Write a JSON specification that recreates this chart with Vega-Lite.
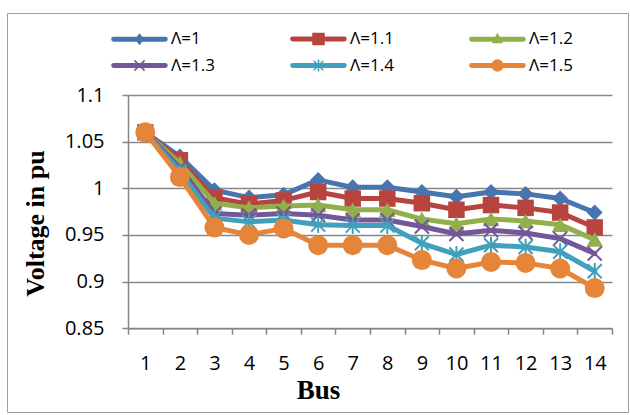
{
  "$schema": "https://vega.github.io/schema/vega-lite/v6.json",
  "autosize": {"type": "none"},
  "width": 621,
  "height": 399,
  "padding": {"left": 7, "top": 13, "right": 2, "bottom": 3},
  "background": "white",
  "config": {
    "view": {"stroke": "#9e9e9e", "strokeWidth": 1},
    "font": "Open Sans"
  },
  "data": {
    "values": [
      {"bus": 1, "s": "Λ=1", "v": 1.06}, {"bus": 2, "s": "Λ=1", "v": 1.034}, {"bus": 3, "s": "Λ=1", "v": 0.998}, {"bus": 4, "s": "Λ=1", "v": 0.99}, {"bus": 5, "s": "Λ=1", "v": 0.993}, {"bus": 6, "s": "Λ=1", "v": 1.009}, {"bus": 7, "s": "Λ=1", "v": 1.001}, {"bus": 8, "s": "Λ=1", "v": 1.001}, {"bus": 9, "s": "Λ=1", "v": 0.996}, {"bus": 10, "s": "Λ=1", "v": 0.991}, {"bus": 11, "s": "Λ=1", "v": 0.996}, {"bus": 12, "s": "Λ=1", "v": 0.994}, {"bus": 13, "s": "Λ=1", "v": 0.989}, {"bus": 14, "s": "Λ=1", "v": 0.974},
      {"bus": 1, "s": "Λ=1.1", "v": 1.06}, {"bus": 2, "s": "Λ=1.1", "v": 1.03}, {"bus": 3, "s": "Λ=1.1", "v": 0.99}, {"bus": 4, "s": "Λ=1.1", "v": 0.983}, {"bus": 5, "s": "Λ=1.1", "v": 0.987}, {"bus": 6, "s": "Λ=1.1", "v": 0.996}, {"bus": 7, "s": "Λ=1.1", "v": 0.989}, {"bus": 8, "s": "Λ=1.1", "v": 0.989}, {"bus": 9, "s": "Λ=1.1", "v": 0.984}, {"bus": 10, "s": "Λ=1.1", "v": 0.977}, {"bus": 11, "s": "Λ=1.1", "v": 0.982}, {"bus": 12, "s": "Λ=1.1", "v": 0.979}, {"bus": 13, "s": "Λ=1.1", "v": 0.974}, {"bus": 14, "s": "Λ=1.1", "v": 0.958},
      {"bus": 1, "s": "Λ=1.2", "v": 1.06}, {"bus": 2, "s": "Λ=1.2", "v": 1.027}, {"bus": 3, "s": "Λ=1.2", "v": 0.984}, {"bus": 4, "s": "Λ=1.2", "v": 0.979}, {"bus": 5, "s": "Λ=1.2", "v": 0.981}, {"bus": 6, "s": "Λ=1.2", "v": 0.982}, {"bus": 7, "s": "Λ=1.2", "v": 0.977}, {"bus": 8, "s": "Λ=1.2", "v": 0.977}, {"bus": 9, "s": "Λ=1.2", "v": 0.967}, {"bus": 10, "s": "Λ=1.2", "v": 0.962}, {"bus": 11, "s": "Λ=1.2", "v": 0.967}, {"bus": 12, "s": "Λ=1.2", "v": 0.965}, {"bus": 13, "s": "Λ=1.2", "v": 0.961}, {"bus": 14, "s": "Λ=1.2", "v": 0.945},
      {"bus": 1, "s": "Λ=1.3", "v": 1.06}, {"bus": 2, "s": "Λ=1.3", "v": 1.022}, {"bus": 3, "s": "Λ=1.3", "v": 0.973}, {"bus": 4, "s": "Λ=1.3", "v": 0.971}, {"bus": 5, "s": "Λ=1.3", "v": 0.973}, {"bus": 6, "s": "Λ=1.3", "v": 0.971}, {"bus": 7, "s": "Λ=1.3", "v": 0.966}, {"bus": 8, "s": "Λ=1.3", "v": 0.966}, {"bus": 9, "s": "Λ=1.3", "v": 0.959}, {"bus": 10, "s": "Λ=1.3", "v": 0.951}, {"bus": 11, "s": "Λ=1.3", "v": 0.955}, {"bus": 12, "s": "Λ=1.3", "v": 0.952}, {"bus": 13, "s": "Λ=1.3", "v": 0.946}, {"bus": 14, "s": "Λ=1.3", "v": 0.93},
      {"bus": 1, "s": "Λ=1.4", "v": 1.06}, {"bus": 2, "s": "Λ=1.4", "v": 1.018}, {"bus": 3, "s": "Λ=1.4", "v": 0.968}, {"bus": 4, "s": "Λ=1.4", "v": 0.964}, {"bus": 5, "s": "Λ=1.4", "v": 0.966}, {"bus": 6, "s": "Λ=1.4", "v": 0.961}, {"bus": 7, "s": "Λ=1.4", "v": 0.96}, {"bus": 8, "s": "Λ=1.4", "v": 0.96}, {"bus": 9, "s": "Λ=1.4", "v": 0.941}, {"bus": 10, "s": "Λ=1.4", "v": 0.929}, {"bus": 11, "s": "Λ=1.4", "v": 0.939}, {"bus": 12, "s": "Λ=1.4", "v": 0.937}, {"bus": 13, "s": "Λ=1.4", "v": 0.932}, {"bus": 14, "s": "Λ=1.4", "v": 0.911},
      {"bus": 1, "s": "Λ=1.5", "v": 1.06}, {"bus": 2, "s": "Λ=1.5", "v": 1.012}, {"bus": 3, "s": "Λ=1.5", "v": 0.958}, {"bus": 4, "s": "Λ=1.5", "v": 0.95}, {"bus": 5, "s": "Λ=1.5", "v": 0.957}, {"bus": 6, "s": "Λ=1.5", "v": 0.939}, {"bus": 7, "s": "Λ=1.5", "v": 0.939}, {"bus": 8, "s": "Λ=1.5", "v": 0.939}, {"bus": 9, "s": "Λ=1.5", "v": 0.923}, {"bus": 10, "s": "Λ=1.5", "v": 0.914}, {"bus": 11, "s": "Λ=1.5", "v": 0.921}, {"bus": 12, "s": "Λ=1.5", "v": 0.92}, {"bus": 13, "s": "Λ=1.5", "v": 0.914}, {"bus": 14, "s": "Λ=1.5", "v": 0.893}
    ]
  },
  "encoding": {
    "x": {
      "field": "bus", "type": "quantitative", "title": "Bus",
      "scale": {"domain": [0.5, 14.5], "range": [121, 605], "nice": false, "zero": false},
      "axis": {
        "values": [0.5, 1.5, 2.5, 3.5, 4.5, 5.5, 6.5, 7.5, 8.5, 9.5, 10.5, 11.5, 12.5, 13.5, 14.5],
        "labelExpr": "datum.value < 14 ? format(datum.value + 0.5, 'd') : ''",
        "labelOffset": 17.29, "labelFlush": false, "labelOverlap": false, "labelBound": false,
        "offset": -83.8, "grid": false,
        "domainColor": "#868686", "domainWidth": 1.5,
        "tickColor": "#868686", "tickWidth": 1.5, "tickSize": 6,
        "labelFont": "Open Sans", "labelFontSize": 20, "labelColor": "#000", "labelPadding": 19,
        "titleFont": "Liberation Serif", "titleFontSize": 27, "titleFontWeight": "bold", "titleColor": "#000",
        "titleX": 311, "titleY": 70, "titleBaseline": "alphabetic"
      }
    },
    "y": {
      "field": "v", "type": "quantitative", "title": "Voltage in pu",
      "scale": {"domain": [0.85, 1.1], "range": [315.2, 82], "nice": false, "zero": false},
      "axis": {
        "values": [0.85, 0.9, 0.95, 1, 1.05, 1.1], "format": "~g",
        "offset": -121, "grid": true, "gridColor": "#878787", "gridWidth": 1.5,
        "labelFlush": false, "labelOverlap": false,
        "domainColor": "#868686", "domainWidth": 1.5,
        "tickColor": "#868686", "tickWidth": 1.5, "tickSize": 6,
        "labelFont": "Open Sans", "labelFontSize": 20, "labelColor": "#000", "labelPadding": 18,
        "titleFont": "Liberation Serif", "titleFontSize": 26, "titleFontWeight": "bold", "titleColor": "#000",
        "titleX": -85, "titleY": 210, "titleBaseline": "alphabetic", "titleAngle": -90
      }
    }
  },
  "layer": [
    {"transform": [{"filter": "datum.s == 'Λ=1'"}], "mark": {"type": "line", "color": "#4675AF", "strokeWidth": 5, "strokeJoin": "round", "strokeCap": "round"}},
    {"transform": [{"filter": "datum.s == 'Λ=1'"}], "mark": {"type": "point", "shape": "diamond", "filled": true, "opacity": 1, "size": 256, "color": "#4675AF"}},
    {"transform": [{"filter": "datum.s == 'Λ=1.1'"}], "mark": {"type": "line", "color": "#B8443F", "strokeWidth": 5, "strokeJoin": "round", "strokeCap": "round"}},
    {"transform": [{"filter": "datum.s == 'Λ=1.1'"}], "mark": {"type": "point", "shape": "square", "filled": true, "opacity": 1, "size": 272, "color": "#B8443F"}},
    {"transform": [{"filter": "datum.s == 'Λ=1.2'"}], "mark": {"type": "line", "color": "#91B04C", "strokeWidth": 5, "strokeJoin": "round", "strokeCap": "round"}},
    {"transform": [{"filter": "datum.s == 'Λ=1.2'"}], "mark": {"type": "point", "shape": "triangle-up", "filled": true, "opacity": 1, "size": 280, "color": "#91B04C"}},
    {"transform": [{"filter": "datum.s == 'Λ=1.3'"}], "mark": {"type": "line", "color": "#735899", "strokeWidth": 5, "strokeJoin": "round", "strokeCap": "round"}},
    {"transform": [{"filter": "datum.s == 'Λ=1.3'"}], "mark": {"type": "point", "shape": "M-1,-1L1,1M-1,1L1,-1", "filled": false, "opacity": 1, "size": 196, "strokeWidth": 2, "color": "#735899"}},
    {"transform": [{"filter": "datum.s == 'Λ=1.4'"}], "mark": {"type": "line", "color": "#41A0BB", "strokeWidth": 5, "strokeJoin": "round", "strokeCap": "round"}},
    {"transform": [{"filter": "datum.s == 'Λ=1.4'"}], "mark": {"type": "point", "shape": "M-1,-1L1,1M-1,1L1,-1M0,-1.2L0,1.2", "filled": false, "opacity": 1, "size": 196, "strokeWidth": 2, "color": "#41A0BB"}},
    {"transform": [{"filter": "datum.s == 'Λ=1.5'"}], "mark": {"type": "line", "color": "#E5853A", "strokeWidth": 5, "strokeJoin": "round", "strokeCap": "round"}},
    {"transform": [{"filter": "datum.s == 'Λ=1.5'"}], "mark": {"type": "point", "shape": "circle", "filled": true, "opacity": 1, "size": 400, "color": "#E5853A"}},
    {
      "transform": [{"filter": "datum.bus == 1"}],
      "mark": {"type": "point", "filled": true, "opacity": 0, "size": 144},
      "encoding": {
        "color": {
          "field": "s", "type": "nominal",
          "scale": {"domain": ["Λ=1", "Λ=1.1", "Λ=1.2", "Λ=1.3", "Λ=1.4", "Λ=1.5"], "range": ["#4675AF", "#B8443F", "#91B04C", "#735899", "#41A0BB", "#E5853A"]},
          "legend": {
            "title": null, "orient": "none", "legendX": 124, "legendY": 17, "columns": 3, "direction": "horizontal",
            "padding": 0, "columnPadding": 72, "rowPadding": 8,
            "symbolSize": 144, "symbolStrokeWidth": 1.5, "symbolOpacity": 1,
            "labelFont": "Open Sans", "labelFontSize": 17, "labelColor": "#000", "labelOffset": 23,
            "encode": {"symbols": {"update": {"opacity": {"value": 1}, "fillOpacity": {"value": 1}, "strokeOpacity": {"value": 1}, "stroke": {"scale": "color", "field": "value"}, "fill": {"scale": "color", "field": "value"}}}}
          }
        },
        "shape": {
          "field": "s", "type": "nominal",
          "scale": {"domain": ["Λ=1", "Λ=1.1", "Λ=1.2", "Λ=1.3", "Λ=1.4", "Λ=1.5"], "range": [
            "M-4.3,-0.29H4.3A0.29,0.29 0 0 1 4.3,0.29H-4.3A0.29,0.29 0 0 1 -4.3,-0.29ZM0,-0.8L0.62,0L0,0.8L-0.62,0Z",
            "M-4.3,-0.29H4.3A0.29,0.29 0 0 1 4.3,0.29H-4.3A0.29,0.29 0 0 1 -4.3,-0.29ZM-0.92,-0.92H0.92V0.92H-0.92Z",
            "M-4.3,-0.29H4.3A0.29,0.29 0 0 1 4.3,0.29H-4.3A0.29,0.29 0 0 1 -4.3,-0.29ZM0,-0.85L0.72,0.55H-0.72Z",
            "M-4.3,-0.29H4.3A0.29,0.29 0 0 1 4.3,0.29H-4.3A0.29,0.29 0 0 1 -4.3,-0.29ZM-0.85,-0.85L0.85,0.85M-0.85,0.85L0.85,-0.85",
            "M-4.3,-0.29H4.3A0.29,0.29 0 0 1 4.3,0.29H-4.3A0.29,0.29 0 0 1 -4.3,-0.29ZM-0.8,-0.8L0.8,0.8M-0.8,0.8L0.8,-0.8M0,-1L0,1",
            "M-4.3,-0.29H4.3A0.29,0.29 0 0 1 4.3,0.29H-4.3A0.29,0.29 0 0 1 -4.3,-0.29ZM0.9,0A0.9,0.9 0 1 1 -0.9,0A0.9,0.9 0 1 1 0.9,0Z"
          ]},
          "legend": {
            "title": null, "orient": "none", "legendX": 124, "legendY": 17, "columns": 3, "direction": "horizontal",
            "padding": 0, "columnPadding": 72, "rowPadding": 8,
            "symbolSize": 144, "symbolStrokeWidth": 1.5, "symbolOpacity": 1,
            "labelFont": "Open Sans", "labelFontSize": 17, "labelColor": "#000", "labelOffset": 23
          }
        }
      }
    }
  ]
}
